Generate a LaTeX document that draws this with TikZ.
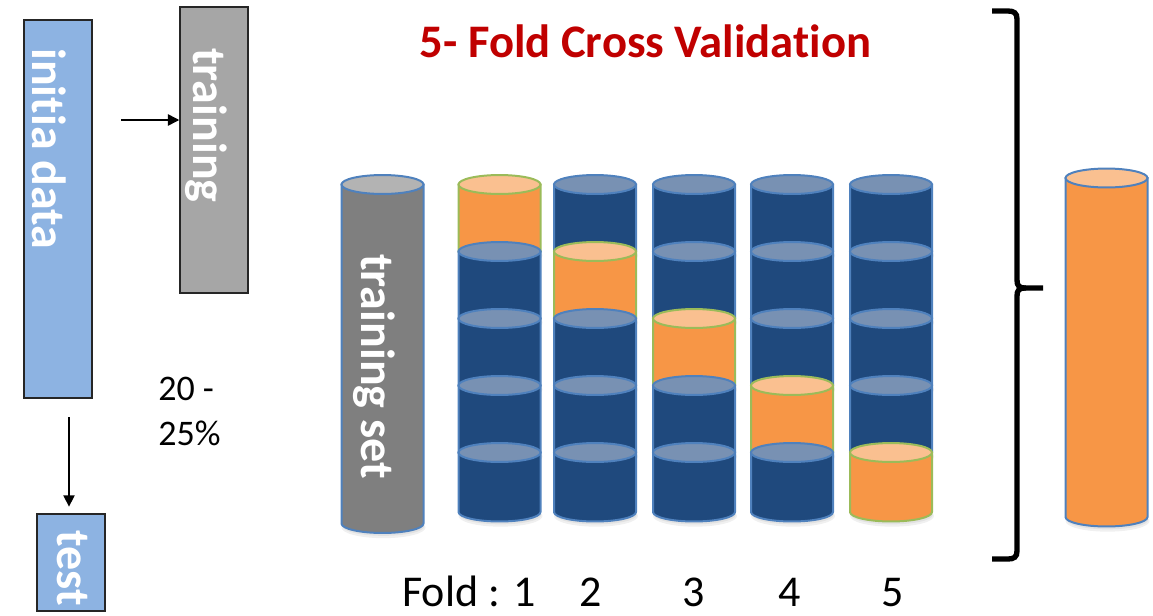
\documentclass[tikz,border=0pt]{standalone}
\usepackage{fontspec}
\setmainfont{Carlito}[Ligatures=NoCommon]
\usetikzlibrary{arrows.meta}

\definecolor{boxblue}{HTML}{8DB3E2}
\definecolor{boxgray}{HTML}{A6A6A6}
\definecolor{boxline}{HTML}{262626}
\definecolor{setbody}{HTML}{7F7F7F}
\definecolor{settop}{HTML}{B3B3B3}
\definecolor{cylline}{HTML}{4F81BD}
\definecolor{navy}{HTML}{1F497D}
\definecolor{navytop}{HTML}{7891B3}
\definecolor{orng}{HTML}{F79646}
\definecolor{orngtop}{HTML}{FAC090}
\definecolor{grn}{HTML}{9BBB59}
\definecolor{titlered}{HTML}{C00000}

\tikzset{
  databox/.style={draw=boxline, line width=1.1pt, inner sep=0pt, minimum width=51pt},
  vlabel/.style={text=white, font=\fontsize{36}{40}\selectfont\bfseries,
    rotate=-90, anchor=base west, inner sep=0pt},
  conn/.style={line width=1.1pt, -{Triangle[length=8.5pt,width=8.5pt]}},
  navybody/.style={fill=navy, draw=cylline, line width=1.5pt},
  navycap/.style={fill=navytop, draw=cylline, line width=1.5pt},
  orbody/.style={fill=orng, draw=grn, line width=1.5pt},
  orcap/.style={fill=orngtop, draw=grn, line width=1.5pt},
  setbodystyle/.style={fill=setbody, draw=cylline, line width=1.5pt},
  setcapstyle/.style={fill=settop, draw=cylline, line width=1.5pt},
  bigbody/.style={fill=orng, draw=cylline, line width=1.5pt},
  bigcap/.style={fill=orngtop, draw=cylline, line width=1.5pt},
  plain/.style={font=\fontsize{27}{34}\selectfont, inner sep=0pt},
  foldtxt/.style={font=\fontsize{33}{40}\selectfont, inner sep=0pt, text depth=0pt, anchor=base},
}

% one cylinder piece: centre x, top y, bottom y, body style, cap style
\newcommand\cylpart[5]{%
  \fill[black, opacity=0.06] (#1+1,#3+4) ellipse[x radius=31.5pt, y radius=8pt];
  \fill[black, opacity=0.06] (#1+1,#3+3) ellipse[x radius=30.5pt, y radius=7pt];
  \filldraw[#4] (#1-41,#2) -- (#1-41,#3)
    arc[start angle=180, end angle=360, x radius=30.75pt, y radius=7.1pt]
    -- (#1+41,#2) -- cycle;
  \filldraw[#5] (#1,#2) ellipse[x radius=30.75pt, y radius=7.1pt];
}

\begin{document}
\begin{tikzpicture}[x=0.75pt, y=-0.75pt]
  \useasboundingbox (0,0) rectangle (1153,615);

  % ---- hold-out split -------------------------------------------------
  \node[databox, fill=boxblue, minimum height=283.5pt] (initdata) at (58,209) {};
  \node[databox, fill=boxgray, minimum height=214.5pt] (trainbox) at (214,150) {};
  \node[databox, fill=boxblue, minimum height=72.75pt] (testbox) at (71,562.5) {};

  \node[vlabel] (initlbl) at (32,48) {initia data};
  \node[vlabel] (trainlbl) at (193,48) {training};
  \node[vlabel] (testlbl) at (57,530) {test};

  \coordinate (trainfrom) at (121,120);
  \coordinate (testfrom) at (69,417);
  \draw[conn] (trainfrom) -- (trainfrom -| trainbox.west);
  \draw[conn, shorten >=5pt] (testfrom) -- (testfrom |- testbox.north);

  \node[plain, anchor=base west] (pcta) at (158,400) {20 -};
  \node[plain, anchor=base west] (pctb) at (158,445) {25\%};

  % ---- title ------------------------------------------------------------
  \node[font=\fontsize{35}{40}\selectfont\bfseries, text=titlered, anchor=base, inner sep=0pt]
    (title) at (645.5,57) {5- Fold Cross Validation};

  % ---- training set cylinder ---------------------------------------------
  \cylpart{382.5}{184.5}{523.5}{setbodystyle}{setcapstyle}
  \node[vlabel] (setlbl) at (361,254) {training set};

  % ---- five folds ------------------------------------------------------------
  \foreach \c/\xc in {1/499.5,2/595,3/694,4/792,5/891}{
    \foreach \s/\yt/\yb in {1/184.5/251.5,2/251.5/318.5,3/318.5/385.5,4/385.5/452.5,5/452.5/512}{
      \ifnum\s=\c
        \cylpart{\xc}{\yt}{\yb}{orbody}{orcap}
      \else
        \cylpart{\xc}{\yt}{\yb}{navybody}{navycap}
      \fi
    }
  }

  % ---- brace and validation cylinder ------------------------------------------
  \draw[line width=4pt] (992,11) -- (1008,11) .. controls (1014,11) and (1017,13) .. (1017,19)
    -- (1017,280) .. controls (1017,286) and (1019,288) .. (1026,288) -- (1043,288);
  \draw[line width=4pt] (1026,288) .. controls (1019,288) and (1017,290) .. (1017,296)
    -- (1017,551) .. controls (1017,557) and (1014,559) .. (1008,559) -- (992,559);

  \cylpart{1106.5}{178}{517}{bigbody}{bigcap}

  % ---- fold numbers ----------------------------------------------------------
  \node[foldtxt, anchor=base west] (foldlbl) at (402,606) {Fold : 1};
  \node[foldtxt] (f2) at (591,606) {2};
  \node[foldtxt] (f3) at (694,606) {3};
  \node[foldtxt] (f4) at (790,606) {4};
  \node[foldtxt] (f5) at (893,606) {5};
\end{tikzpicture}
\end{document}
